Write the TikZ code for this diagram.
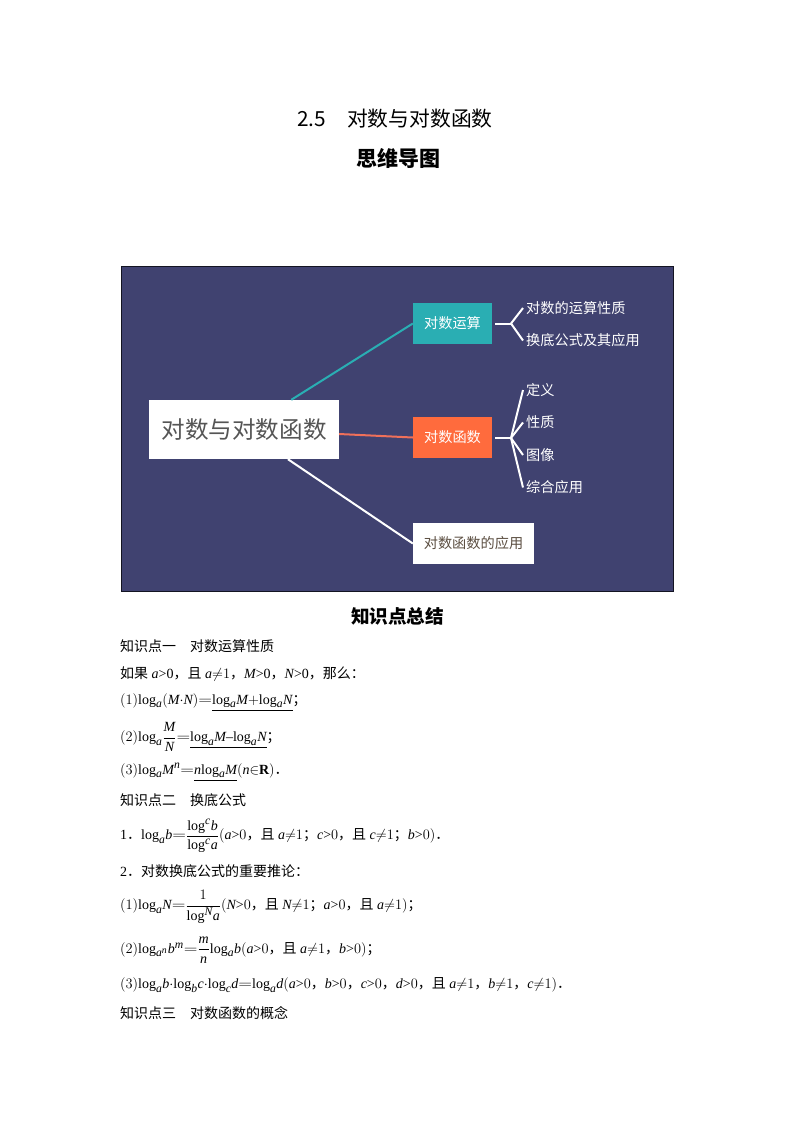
\documentclass[tikz,border=0pt]{standalone}
\usepackage{amsmath}
\usepackage{amssymb}
\usepackage{fontspec}
\setmainfont{Liberation Serif}
\usepackage[italic]{mathastext}
\newfontfamily\cjk{Noto Sans CJK SC}
\newcommand{\zh}[1]{{\cjk #1}}
\newcommand{\fsize}[1]{\fontsize{#1}{#1}\selectfont}
\newcommand{\lgm}[1]{\mathrm{log}_{#1}}
\newcommand{\lgu}[1]{\mathrm{log}^{#1}}
\newcommand{\eql}{\mathord{\scalebox{1.25}[1]{$=$}}}
\newcommand{\nq}{\mathord{\neq}}
\definecolor{mapbg}{HTML}{404270}
\definecolor{mapteal}{HTML}{2AAEB3}
\definecolor{maporange}{HTML}{FF6B3D}
\definecolor{mapred}{HTML}{F0705A}
\definecolor{mapgrey}{HTML}{555555}
\definecolor{mapbrown}{HTML}{5C4F42}
\tikzset{
  mapbox/.style={minimum width=79pt,minimum height=41pt,inner sep=0pt,font=\cjk\fsize{14.2}},
  leaf/.style={anchor=west,inner sep=3pt,text=white,font=\cjk\fsize{14.2}},
  twig/.style={draw=white,line width=2pt},
  bodyline/.style={anchor=west,inner sep=0pt,font=\fsize{14}}
}
\begin{document}
\begin{tikzpicture}[x=1pt,y=-1pt]
    \useasboundingbox (0,0) rectangle (794,1123);
    \fill[white] (0,0) rectangle (794,1123);

    % headings
    \node[font=\cjk\fsize{20.8}] (title) at (395,119) {2.5\hspace{21pt}对数与对数函数};
    \node[font=\cjk\bfseries\fsize{21}] (subtitle) at (398,158) {思维导图};
    \node[font=\cjk\bfseries\fsize{18.6}] (summary) at (397.5,616) {知识点总结};

    % mind map
    \fill[mapbg,draw=black!70!mapbg,line width=0.6pt] (121,266) rectangle (673.5,591);
    \node[fill=white,minimum width=190pt,minimum height=59pt,inner sep=0pt,text=mapgrey,font=\cjk\fsize{23.6}] (root) at (244,429.5) {对数与对数函数};
    \node[mapbox,fill=mapteal,text=white] (yunsuan) at (452.5,323.5) {\raisebox{-1.5pt}{对数运算}};
    \node[mapbox,fill=maporange,text=white] (hanshu) at (452.5,437.5) {\raisebox{-2pt}{对数函数}};
    \node[mapbox,fill=white,minimum width=121pt,text=mapbrown] (yingyong) at (473.5,543.5) {\raisebox{-2pt}{对数函数的应用}};

    \draw[mapteal,line width=2pt] (root) -- (yunsuan.west);
    \draw[mapred,line width=2pt] (root) -- (hanshu.west);
    \draw[white,line width=2pt] (root) -- (yingyong.west);

    \node[leaf] (xingzhi) at (523,308) {对数的运算性质};
    \node[leaf] (huandi) at (523,340.5) {换底公式及其应用};
    \node[leaf] (dingyi) at (523,390) {定义};
    \node[leaf] (xing) at (523,422.5) {性质};
    \node[leaf] (tuxiang) at (523,455) {图像};
    \node[leaf] (zonghe) at (523,487.5) {综合应用};

    \coordinate (stemA) at (495,323.5);
    \coordinate (forkA) at (511,323.5);
    \coordinate (stemB) at (495,438);
    \coordinate (forkB) at (511,438);

    \draw[twig] (stemA) -- (forkA);
    \draw[twig] (forkA) -- (xingzhi.west);
    \draw[twig] (forkA) -- (huandi.west);
    \draw[twig] (stemB) -- (forkB);
    \foreach \leafname in {dingyi,xing,tuxiang,zonghe}
      \draw[twig] (forkB) -- (\leafname.west);

    % notes
    \node[bodyline] (pointA) at (120,646.5) {\zh{知识点一\hspace{14pt}对数运算性质}};
    \node[bodyline] (ifline) at (120,674) {\zh{如果} $a$>0\zh{，且} $a\nq 1$\zh{，}$M$>0\zh{，}$N$>0\zh{，那么：}};
    \node[bodyline] (ruleA) at (120,702) {$(1)\lgm{a}(M{\cdot}N)\eql\underline{\lgm{a}M{+}\lgm{a}N}$\zh{；}};
    \node[bodyline] (ruleB) at (120,737) {$(2)\lgm{a}\dfrac{M}{N}\eql\underline{\lgm{a}M{-}\lgm{a}N}$\zh{；}};
    \node[bodyline] (ruleC) at (120,772) {$(3)\lgm{a}M^n\eql\underline{n\lgm{a}M}(n{\in}\mathbf{R})$\zh{．}};
    \node[bodyline] (pointB) at (120,800) {\zh{知识点二\hspace{14pt}换底公式}};
    \node[bodyline] (baseA) at (120,836) {1\zh{．}$\lgm{a}b\eql\dfrac{\lgu{c}b}{\lgu{c}a}(a{>}0$\zh{，且} $a\nq 1$\zh{；}$c{>}0$\zh{，且} $c\nq 1$\zh{；}$b{>}0)$\zh{．}};
    \node[bodyline] (baseB) at (120,871.5) {2\zh{．对数换底公式的重要推论：}};
    \node[bodyline] (coroA) at (120,907) {$(1)\lgm{a}N\eql\dfrac{1}{\lgu{N}a}(N{>}0$\zh{，且} $N\nq 1$\zh{；}$a{>}0$\zh{，且} $a\nq 1)$\zh{；}};
    \node[bodyline] (coroB) at (120,950) {$(2)\lgm{a^n}b^m\eql\dfrac{m}{n}\lgm{a}b(a{>}0$\zh{，且} $a\nq 1$\zh{，}$b{>}0)$\zh{；}};
    \node[bodyline] (coroC) at (120,985) {$(3)\lgm{a}b{\cdot}\lgm{b}c{\cdot}\lgm{c}d\eql\lgm{a}d(a{>}0$\zh{，}$b{>}0$\zh{，}$c{>}0$\zh{，}$d{>}0$\zh{，且} $a\nq 1$\zh{，}$b\nq 1$\zh{，}$c\nq 1)$\zh{．}};
    \node[bodyline] (pointC) at (120,1013) {\zh{知识点三\hspace{14pt}对数函数的概念}};
\end{tikzpicture}
\end{document}
